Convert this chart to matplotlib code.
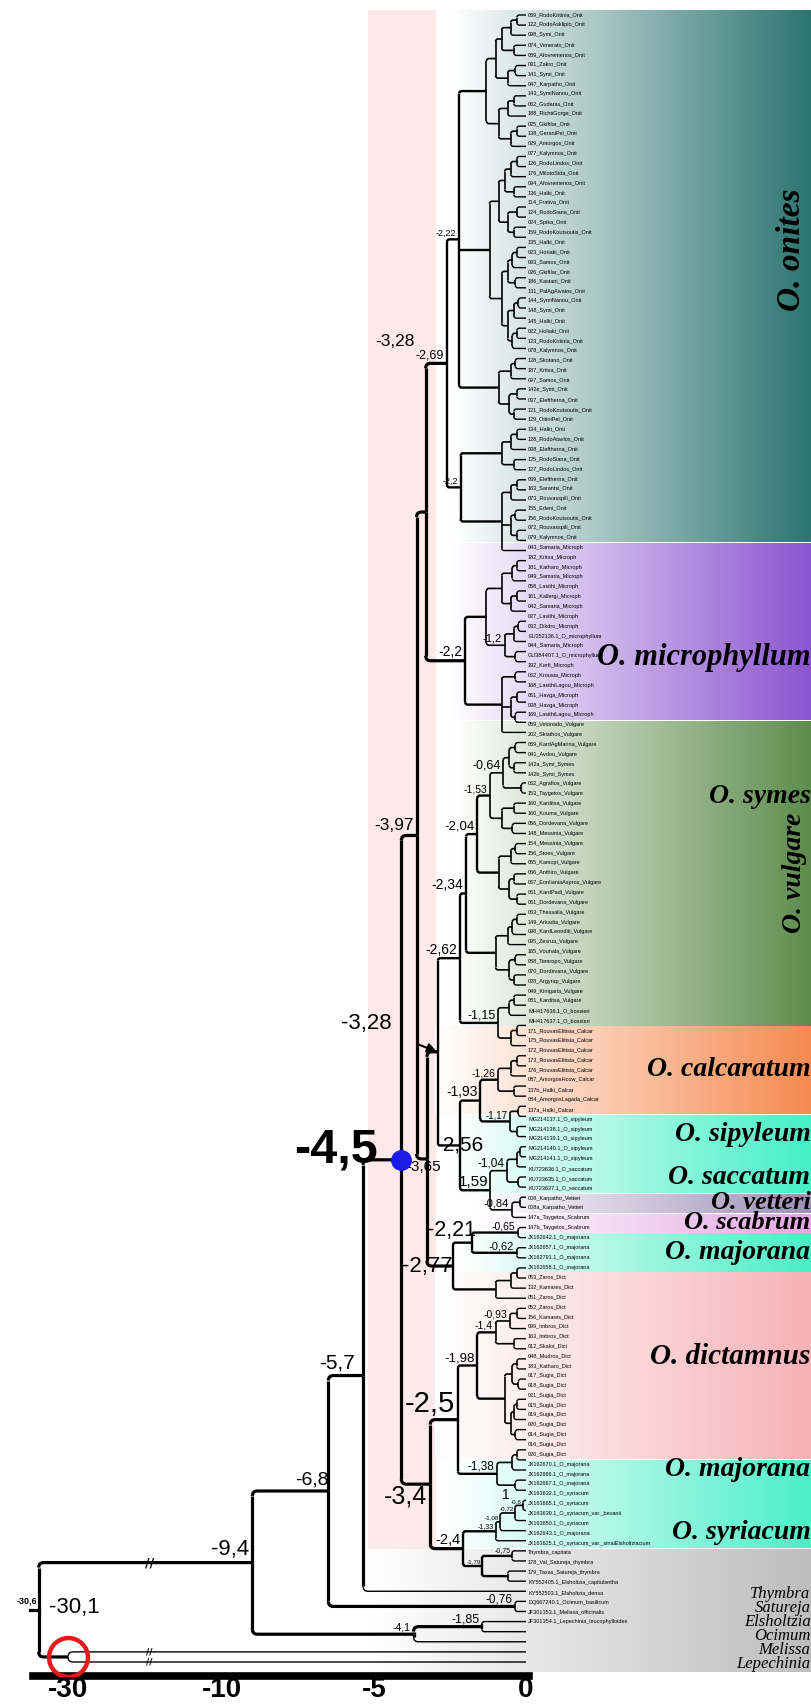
import matplotlib
matplotlib.use("Agg")
import matplotlib.pyplot as plt
import numpy as np
from matplotlib.path import Path
from matplotlib.patches import PathPatch

# ---------------- leaves (top to bottom) ----------------
onites = [
    "069_RodoKritinia_Onit", "122_RodoAsklipio_Onit", "098_Symi_Onit", "074_Venerato_Onit",
    "089_Afovremenos_Onit", "031_Zakro_Onit", "141_Symi_Onit", "047_Karpatho_Onit",
    "143_SymiNanou_Onit", "062_Gudaras_Onit", "188_RichtiGorge_Onit", "025_Gkiftlar_Onit",
    "138_GeraniPel_Onit", "029_Amorgos_Onit", "077_Kalymnos_Onit", "126_RodoLindos_Onit",
    "176_MilotoSida_Onit", "094_Afovremenos_Onit", "136_Halki_Onit", "114_Frativa_Onit",
    "124_RodoSiana_Onit", "024_Spika_Onit", "159_RodoKoutsoutis_Onit", "135_Halki_Onit",
    "023_Horiaki_Onit", "093_Samos_Onit", "026_Gkiftlar_Onit", "186_Kastani_Onit",
    "131_PalAgAivaios_Onit", "144_SymiNanou_Onit", "148_Symi_Onit", "145_Halki_Onit",
    "022_Holiaki_Onit", "123_RodoKritinia_Onit", "078_Kalymnos_Onit", "128_Skotano_Onit",
    "187_Kritsa_Onit", "097_Samos_Onit", "142e_Symi_Onit", "037_Eleftherna_Onit",
    "121_RodoKoutsoutis_Onit", "129_OitiniPel_Onit", "134_Halki_Onit", "128_RodoAtavlos_Onit",
    "038_Eleftherna_Onit", "125_RodoSiana_Onit", "127_RodoLindos_Onit", "039_Eleftherna_Onit",
    "163_Sarantsi_Onit", "073_Rouvasspili_Onit", "155_Edeni_Onit", "156_RodoKoutsoutis_Onit",
    "072_Rouvasspili_Onit", "079_Kalymnos_Onit",
]
microphyllum = [
    "043_Samaria_Microph", "182_Kritsa_Microph", "181_Katharo_Microph", "049_Samaria_Microph",
    "058_Lasithi_Microph", "161_Kallergi_Microph", "042_Samaria_Microph", "027_Lasithi_Microph",
    "032_Dikdro_Microph", "EU252136.1_O_microphyllum", "044_Samaria_Microph",
    "GU384407.1_O_microphyllum", "192_Kerfi_Microph", "062_Krousia_Microph",
    "168_LasithiLagou_Microph", "061_Havga_Microph", "038_Havga_Microph", "169_LasithiLagou_Microph",
]
vulgare = [
    "059_Velonado_Vulgare", "202_Skiathos_Vulgare", "069_KardAgMarina_Vulgare", "041_Avdou_Vulgare",
    "142a_Symi_Symes", "142b_Symi_Symes", "062_Agrafios_Vulgare", "153_Taygetos_Vulgare",
    "160_Karditsa_Vulgare", "160_Kouma_Vulgare", "066_Dordevana_Vulgare", "148_Messinia_Vulgare",
    "154_Messinia_Vulgare", "156_Stoes_Vulgare", "065_Kamopi_Vulgare", "066_Anthiro_Vulgare",
    "067_EonlianiaAspros_Vulgare", "061_KardPadi_Vulgare", "061_Dordevana_Vulgare",
    "063_Thessalia_Vulgare", "149_Arkadia_Vulgare", "098_KardLeonditi_Vulgare", "095_Zesrua_Vulgare",
    "165_Vounala_Vulgare", "068_Temropo_Vulgare", "070_Dordevana_Vulgare", "028_Argyrap_Vulgare",
    "049_Kinigaria_Vulgare", "081_Karditsa_Vulgare", "MH417636.1_O_bossieri", "MH417637.1_O_bossieri",
]
calcaratum = [
    "171_RouvasElitisia_Calcar", "175_RouvasElitisia_Calcar", "172_RouvasElitisia_Calcar",
    "173_RouvasElitisia_Calcar", "176_RouvasElitisia_Calcar", "087_AmorgosHcow_Calcar",
    "137b_Halki_Calcar", "084_AmorgosLagada_Calcar", "137a_Halki_Calcar",
]
sipyleum = [
    "MG214137.1_O_sipyleum", "MG214138.1_O_sipyleum", "MG214139.1_O_sipyleum",
    "MG214140.1_O_sipyleum", "MG214141.1_O_sipyleum", "KU723636.1_O_saccatum",
    "KU723635.1_O_saccatum", "KU723637.1_O_saccatum",
]
vetteri = ["008_Karpatho_Vetteri", "008a_Karpatho_Vetteri"]
scabrum = ["147a_Taygetos_Scabrum", "147b_Taygetos_Scabrum"]
majorana = ["JX162642.1_O_majorana", "JX162657.1_O_majorana", "JX162791.1_O_majorana",
            "JX162658.1_O_majorana"]
dictamnus = [
    "053_Zaros_Dict", "132_Kamares_Dict", "051_Zaros_Dict", "052_Zaros_Dict", "156_Kamares_Dict",
    "099_Imbros_Dict", "163_Imbros_Dict", "012_Skalot_Dict", "048_Mudros_Dict", "183_Katharo_Dict",
    "017_Sugia_Dict", "018_Sugia_Dict", "021_Sugia_Dict", "015_Sugia_Dict", "019_Sugia_Dict",
    "020_Sugia_Dict", "014_Sugia_Dict", "016_Sugia_Dict", "020_Sugia_Dict",
]
majsyr = [
    "JX162670.1_O_majorana", "JX162666.1_O_majorana", "JX162667.1_O_majorana",
    "JX163632.1_O_syriacum", "JX163665.1_O_syriacum", "JX163639.1_O_syriacum_var._bevanii",
    "JX163650.1_O_syriacum", "JX162643.1_O_majorana", "JX163625.1_O_syriacum_var._sinaiElsholtziacium",
]
outgroups = [
    "Thymbra_capitata", "178_Val_Satureja_thymbra", "179_Taxas_Satureja_thymbra",
    "KY552405.1_Elsholtzia_capitulantha", "KY552503.1_Elsholtzia_densa",
    "DQ667240.1_Ocimum_basilicum", "JF301353.1_Melissa_officinalis",
    "JF301354.1_Lepechinia_leucophylloides",
]

# ---------------- topology: leaf index, ")depth:name" for internal nodes ----------------
oni_a = "((((0,1)-0.3,2)-0.5,(3,4)-0.4)-0.8,((5,6)-0.35,7)-0.6)-1.0"
oni_b = "(((8,9)-0.4,10)-0.6,((11,12)-0.3,13)-0.5)-0.9"
oni_c = "((((14,15)-0.3,16)-0.5,(17,18)-0.4)-0.7,((19,20)-0.3,(21,22)-0.4)-0.6)-0.9"
oni_d = "((((23,24)-0.3,25)-0.45,(26,27)-0.35)-0.6,(((28,29)-0.25,30)-0.4,((31,32)-0.3,33)-0.45)-0.6)-0.8"
oni_e = "(((34,35)-0.35,36)-0.5,((37,38)-0.3,(39,40)-0.4)-0.55)-0.9"
oni_f = "((((41,42)-0.3,43)-0.5,(44,45)-0.4)-0.8,(((46,47)-0.3,48)-0.5,((49,50)-0.35,(51,52)-0.3)-0.5,53)-0.8)-2.15:n22a"
onites_tree = f"((({oni_a},{oni_b})-1.3,({oni_c},{oni_d})-1.2,{oni_e})-2.2:n222,{oni_f})-2.6:n269"

mic_a = "((((0,1)-0.3,2)-0.45,((3,4)-0.3,5)-0.5)-0.8,(((6,7)-0.25,8)-0.4,(9,10)-0.35)-0.7:n12)-1.3"
mic_b = "((11,12)-0.35,((13,14)-0.3,(15,16)-0.35)-0.5,17)-0.8"
micro_tree = f"({mic_a},{mic_b})-2.0:n22b"

vul_064 = "(((0,1)-0.35,(2,3)-0.4)-0.55,(4,5)-0.15)-0.75:n064"
vul_x1 = "((6,7)-0.4,(8,9)-0.45)-0.8"
vul_x2 = "(((10,11)-0.35,12)-0.5,((13,14)-0.4,(15,16)-0.3)-0.55)-0.9"
vul_x3 = "((((17,18)-0.3,19)-0.45,20)-0.6,((21,22)-0.35,(23,24)-0.4)-0.55)-1.0"
vul_115 = "(((25,26)-0.4,27)-0.55,((28,29)-0.3,30)-0.5)-0.92:n115"
vulgare_tree = f"(((({vul_064},{vul_x1})-1.18:n153,{vul_x2})-1.6:n204,{vul_x3})-1.97:n234,{vul_115})-2.17:n262"

calc_tree = "((((0,1)-0.3,2)-0.5,(3,4)-0.4)-0.92:n126,((5,6)-0.25,(7,8)-0.3)-0.53:n117)-1.5:n193"
sip_tree = "((((0,1)-0.2,2)-0.3,(3,4)-0.25)-0.62:n104,((5,6)-0.2,7)-0.46:n084)-1.18:n159"
vet_tree = "(0,1)-0.26:n065"
sca_tree = "(0,1)-0.3:n062"
maj_tree = "(((0,1)-0.3,2)-0.5,3)-1.0"
dic_a = ("((((0,1)-0.3,2)-0.53:n093,(3,4)-0.4)-1.0:n14,"
         "(((5,6)-0.3,(7,8)-0.25)-0.45,(((9,10)-0.3,11)-0.4,(12,13)-0.35)-0.5)-0.7)-1.6:n198")
dic_b = "(((14,15)-0.3,16)-0.45,(17,18)-0.35:n1)-0.95:n138"
dict_tree = f"({dic_a},{dic_b})-2.24:n25"
majsyr_tree = ("(((((0,1)-0.1:n06,2)-0.36:n072,3)-0.85:n108,4)-1.0:n133,"
               "((5,6)-0.46:n075,(7,8)-0.6)-1.45:n179)-2.07:n24")

clades = {"ONI": (onites, onites_tree), "MIC": (microphyllum, micro_tree),
          "VUL": (vulgare, vulgare_tree), "CAL": (calcaratum, calc_tree),
          "SIP": (sipyleum, sip_tree), "VET": (vetteri, vet_tree), "SCA": (scabrum, sca_tree),
          "MAJ": (majorana, maj_tree), "DIC": (dictamnus, dict_tree), "MSY": (majsyr, majsyr_tree)}

n277 = "((VET,SCA)-1.78:n221,MAJ)-2.4:n277"
n365 = f"((VUL,(CAL,SIP)-2.17:n256)-2.9:n328b,{n277})-3.26:n365"
n397 = f"((ONI,MIC)-3.3:n328a,{n365})-3.6:n397"
n45 = f"({n397},(DIC,MSY)-3.15:n34)-4.1:n45"
n68 = f"(({n45},G0)-5.36:n57,(G1,G2)-0.36:n076)-6.5:n68"
n94 = f"({n68},((G3,G4)-1.45:n185,G5)-3.7:n41)-9.0:n94"
backbone = f"({n94},(G6,G7)-30.0:n301)-34.5:n306"

# node annotations: text, fontsize, weight, ha, va, dx, dy (points), anchor ("node"/"top")
node_labels = {
    "n306": ("-30,6", 6.5, "bold", "right", "bottom", -1, 3, "node"),
    "n301": ("-30,1", 16, "normal", "left", "bottom", -14, 28, "node"),
    "n94": ("-9,4", 16, "normal", "right", "bottom", -2, 2, "node"),
    "n68": ("-6,8", 14, "normal", "right", "bottom", 0, 2, "node"),
    "n57": ("-5,7", 15, "normal", "right", "bottom", -6, 2, "node"),
    "n45": ("-4,5", 35, "bold", "right", "bottom", -17, -9, "node"),
    "n397": ("-3,97", 12.5, "normal", "right", "bottom", -2, 2, "node"),
    "n328a": ("-3,28", 12.5, "normal", "right", "bottom", -8, 10, "top"),
    "n365": ("-3,65", 11, "normal", "center", "top", -2, -1, "node"),
    "n269": ("-2,69", 9, "normal", "right", "bottom", -2, 1, "node"),
    "n222": ("-2,22", 6.5, "normal", "right", "bottom", -2, 1, "node"),
    "n22a": ("-2,2", 6.5, "normal", "right", "bottom", -2, 1, "node"),
    "n22b": ("-2,2", 10, "normal", "right", "bottom", -2, 1, "node"),
    "n12": ("-1,2", 8, "normal", "right", "bottom", -2, 1, "node"),
    "n064": ("-0,64", 9, "normal", "right", "bottom", -2, 1, "node"),
    "n153": ("-1,53", 7.5, "normal", "right", "bottom", -2, 1, "node"),
    "n204": ("-2,04", 9.5, "normal", "right", "bottom", -2, 1, "node"),
    "n234": ("-2,34", 10, "normal", "right", "bottom", -2, 1, "node"),
    "n262": ("-2,62", 10, "normal", "right", "bottom", -2, 1, "node"),
    "n115": ("-1,15", 9, "normal", "right", "bottom", -2, 1, "node"),
    "n193": ("-1,93", 10, "normal", "right", "bottom", -2, 1, "node"),
    "n126": ("-1,26", 7.5, "normal", "right", "bottom", -2, 1, "node"),
    "n117": ("-1,17", 7, "normal", "right", "bottom", -2, 1, "node"),
    "n256": ("-2,56", 15, "normal", "center", "center", 0, 0, "node"),
    "n104": ("-1,04", 8.5, "normal", "right", "bottom", -2, 1, "node"),
    "n159": ("1,59", 11, "normal", "right", "bottom", -1, 1, "node"),
    "n084": ("-0,84", 8, "normal", "right", "bottom", -2, 1, "node"),
    "n221": ("-2,21", 15.5, "normal", "right", "bottom", 3, 1, "node"),
    "n065": ("-0,65", 7.5, "normal", "right", "bottom", -2, 1, "node"),
    "n062": ("-0,62", 8, "normal", "right", "bottom", -2, 1, "node"),
    "n277": ("-2,77", 16, "normal", "right", "center", 0, 0, "node"),
    "n093": ("-0,93", 7.5, "normal", "right", "bottom", -2, 1, "node"),
    "n14": ("-1,4", 7.5, "normal", "right", "bottom", -2, 1, "node"),
    "n198": ("-1,98", 9.5, "normal", "right", "bottom", -2, 1, "node"),
    "n25": ("-2,5", 21, "normal", "right", "bottom", -2, 1, "node"),
    "n138": ("-1,38", 8.5, "normal", "right", "bottom", -2, 1, "node"),
    "n1": ("1", 10, "normal", "right", "top", -4, -2, "node"),
    "n34": ("-3,4", 18, "normal", "right", "top", -2, 0, "node"),
    "n24": ("-2,4", 10.5, "normal", "right", "bottom", -2, 1, "node"),
    "n179": ("-1,79", 4.5, "normal", "right", "bottom", -1, 1, "node"),
    "n133": ("-1,33", 5, "normal", "right", "bottom", -1, 1, "node"),
    "n108": ("-1,08", 4.5, "normal", "right", "bottom", -1, 1, "node"),
    "n072": ("-0,72", 4.5, "normal", "right", "bottom", -1, 1, "node"),
    "n06": ("-0,6", 4.5, "normal", "right", "bottom", -1, 1, "node"),
    "n075": ("-0,75", 5, "normal", "right", "bottom", -1, 1, "node"),
    "n076": ("-0,76", 8.5, "normal", "right", "bottom", -2, 1, "node"),
    "n185": ("-1,85", 9, "normal", "right", "bottom", -2, 1, "node"),
    "n41": ("-4,1", 7.5, "normal", "right", "bottom", -2, 1, "node"),
}

# clade titles: text, clade, position inside the band (0 top .. 1 bottom), rotation, size
clade_titles = [
    ("O. onites", "ONI", 0.45, 90, 24), ("O. microphyllum", "MIC", 0.65, 0, 22),
    ("O. symes", "VUL", 0.25, 0, 20), ("O. vulgare", "VUL", 0.5, 90, 20),
    ("O. calcaratum", "CAL", 0.5, 0, 20), ("O. sipyleum", "SIP", 0.26, 0, 20),
    ("O. saccatum", "SIP", 0.8, 0, 20), ("O. vetteri", "VET", 0.5, 0, 19),
    ("O. scabrum", "SCA", 0.5, 0, 19), ("O. majorana", "MAJ", 0.5, 0, 20),
    ("O. dictamnus", "DIC", 0.45, 0, 21), ("O. majorana", "MSY", 0.12, 0, 20),
    ("O. syriacum", "MSY", 0.82, 0, 20),
]
outgroup_titles = ["Thymbra", "Satureja", "Elsholtzia", "Ocimum", "Melissa", "Lepechinia"]

band_colors = {"ONI": "#2b7470", "MIC": "#8b55d0", "VUL": "#5e8c4c", "CAL": "#f58a50",
               "SIP": "#45f0c6", "VET": "#9c90b8", "SCA": "#e4a6e4", "MAJ": "#48eec4",
               "DIC": "#f6b2b6", "MSY": "#4cefc8", "OUT": "#bdbdbd"}
band_start = {"ONI": -2.4, "MIC": -2.55, "VUL": -2.4, "CAL": -3.0, "SIP": -2.4, "VET": -1.6,
              "SCA": -1.6, "MAJ": -2.2, "DIC": -3.0, "MSY": -2.6, "OUT": -5.2}

TIP = 0.0
PX = 30.4  # pixels per axis unit in the linear part
BREAK, SQUEEZE = -11.0, 0.214


def fwd(t):
    t = np.asarray(t, float)
    return np.where(t < BREAK, BREAK + (t - BREAK) * SQUEEZE, t)


def inv(u):
    u = np.asarray(u, float)
    return np.where(u < BREAK, BREAK + (u - BREAK) / SQUEEZE, u)


def parse(s, leaf_fn):
    pos = 0

    def token():
        nonlocal pos
        j = pos
        while pos < len(s) and s[pos] not in ",()":
            pos += 1
        return s[j:pos]

    def node():
        nonlocal pos
        if s[pos] == "(":
            pos += 1
            kids = [node()]
            while s[pos] == ",":
                pos += 1
                kids.append(node())
            pos += 1
            depth, _, name = token().partition(":")
            return {"kids": kids, "x": float(depth), "name": name}
        return leaf_fn(token())
    return node()


leaf_order = []


def make_leaf(label, key):
    n = {"kids": [], "x": TIP, "label": label, "clade": key, "name": ""}
    leaf_order.append(n)
    return n


def backbone_leaf(tok):
    if tok.startswith("G"):
        return make_leaf(outgroups[int(tok[1:])], "OUT")
    names, sub = clades[tok]
    return parse(sub, lambda t: make_leaf(names[int(t)], tok))


tree = parse(backbone, backbone_leaf)

# the drawn tree is slightly taller than the column of tip names beside it
tree_rows = np.linspace(15, 1662, len(leaf_order))
name_rows = np.linspace(15, 1622, len(leaf_order))
for n, y, ly in zip(leaf_order, tree_rows, name_rows):
    n["y"], n["ly"] = y, ly
STEP = name_rows[1] - name_rows[0]
main = [n for n in leaf_order if n["clade"] != "OUT"]


def set_y(n):
    if n["kids"]:
        for k in n["kids"]:
            set_y(k)
        n["y"] = 0.5 * (n["kids"][0]["y"] + n["kids"][-1]["y"])


set_y(tree)


def find(n, name):
    if n["name"] == name:
        return n
    for k in n["kids"]:
        r = find(k, name)
        if r:
            return r
    return None


fig = plt.figure(figsize=(8.12, 17.05), dpi=100)
AX_BOTTOM = 1676
ax = fig.add_axes([0, (1705 - AX_BOTTOM) / 1705, 1, AX_BOTTOM / 1705])
ax.set_xscale("function", functions=(fwd, inv))
x_left = float(inv(-526 / PX))
x_right = (812 - 526) / PX
ax.set_xlim(x_left, x_right)
ax.set_ylim(AX_BOTTOM, 0)

# pink time band
ax.axvspan(-5.2, -2.95, ymin=0.02, ymax=1 - 10 / AX_BOTTOM, color="#fde8eb", zorder=0, lw=0)

# clade colour bands (white -> colour gradient), aligned with the tip names
grad = np.linspace(0, 1, 256)[None, :, None]
bands = {}
for key, col in band_colors.items():
    ys = [n["ly"] for n in leaf_order if n["clade"] == key]
    y0, y1 = min(ys) - STEP / 2, max(ys) + STEP / 2
    if key == "OUT":
        y0, y1 = main[-1]["ly"] + STEP / 2, AX_BOTTOM - 4
    bands[key] = (y0, y1)
    rgb = np.array(matplotlib.colors.to_rgb(col))
    img = (1 - grad) * np.ones(3) + grad * rgb
    ax.imshow(img, extent=[band_start[key], x_right, y1, y0], aspect="auto", zorder=0.5,
              interpolation="bilinear")


def lw_for(n):
    if n["x"] < -3.0:
        return 2.3
    if n["x"] < -1.4:
        return 1.7
    return 1.2


def corner_dx(x, r_px):
    return float(inv(fwd(x) + r_px / PX)) - x


stack = [tree]
while stack:
    n = stack.pop()
    if not n["kids"]:
        continue
    lw = lw_for(n)
    r = 5 if lw > 2 else 2.5
    last = len(n["kids"]) - 1
    for i, k in enumerate(n["kids"]):
        stack.append(k)
        klw = 1.0 if not k["kids"] else lw
        if i in (0, last) and abs(k["y"] - n["y"]) > r:
            sgn = np.sign(k["y"] - n["y"])
            dx = corner_dx(n["x"], r)
            ax.add_patch(PathPatch(Path([(n["x"], n["y"]), (n["x"], k["y"] - sgn * r)]),
                                   fill=False, lw=lw, color="black", capstyle="butt", zorder=3))
            verts = [(n["x"], k["y"] - sgn * r), (n["x"], k["y"]), (n["x"] + dx, k["y"]),
                     (k["x"], k["y"])]
            codes = [Path.MOVETO, Path.CURVE3, Path.CURVE3, Path.LINETO]
            ax.add_patch(PathPatch(Path(verts, codes), fill=False, lw=klw, color="black",
                                   capstyle="butt", zorder=3))
        else:
            ax.plot([n["x"], k["x"]], [k["y"], k["y"]], color="black", lw=klw, zorder=3,
                    solid_capstyle="butt")
    if n["name"] in node_labels:
        txt, size, weight, ha, va, dx, dy, anchor = node_labels[n["name"]]
        ay = n["kids"][0]["y"] if anchor == "top" else n["y"]
        ax.annotate(txt, (n["x"], ay), xytext=(dx, dy), textcoords="offset points",
                    ha=ha, va=va, fontsize=size, fontweight=weight,
                    family="Liberation Sans", zorder=5)

# stub on the root
root = tree
ax.plot([inv(fwd(root["x"]) - 0.3), root["x"]], [root["y"], root["y"]], color="black", lw=2.3,
        zorder=3)

# tip names
for n in leaf_order:
    ax.annotate(n["label"], (n["x"], n["ly"]), xytext=(1.5, 0), textcoords="offset points",
                ha="left", va="center", fontsize=4.0, family="Liberation Sans", zorder=5)

# break marks on the long branches
nd = find(tree, "n94")
ax.text(-17.5, nd["y"], "//", ha="center", va="center", fontsize=9, fontweight="bold", zorder=6)
for y in [n["y"] for n in leaf_order[-2:]]:
    ax.text(-17.5, y, "//", ha="center", va="center", fontsize=6.5, fontweight="bold", zorder=6)

# "-3,28" arrow
n328b = find(tree, "n328b")
ax.annotate("-3,28", xy=(n328b["x"] - 0.03, n328b["y"]), xytext=(-5.25, n328b["y"] - 28),
            ha="center", va="center", fontsize=16, family="Liberation Sans", zorder=6,
            arrowprops=dict(arrowstyle="-|>", color="black", lw=1.5, mutation_scale=14,
                            shrinkA=18, shrinkB=0))

# blue and red markers
b = find(tree, "n45")
ax.plot(b["x"], b["y"], "o", ms=14, color="#1c1ce6", zorder=6)
rn = find(tree, "n301")
ax.plot(rn["x"], rn["y"], "o", ms=28, mfc="none", mec="#e31a1c", mew=3.2, zorder=6)

# clade titles
for txt, key, frac, rot, size in clade_titles:
    y0, y1 = bands[key]
    ax.text(x_right - (0.15 if rot else 0.05), y0 + frac * (y1 - y0), txt, rotation=rot,
            ha="right", va="center", fontsize=size, fontweight="bold", fontstyle="italic",
            family="Liberation Serif", zorder=6)
for i, txt in enumerate(outgroup_titles):
    ax.text(x_right - 0.05, 1594 + i * 14, txt, ha="right", va="center", fontsize=12,
            fontstyle="italic", family="Liberation Serif", zorder=6)

# axis
for s in ("top", "left", "right"):
    ax.spines[s].set_visible(False)
ax.spines["bottom"].set_linewidth(5.5)
ax.spines["bottom"].set_bounds(-35.4, 0.1)
ax.set_yticks([])
ax.set_xticks([-30, -10, -5, 0])
ax.set_xticklabels(["-30", "-10", "-5", "0"])
ax.tick_params(axis="x", length=0, pad=1, labelsize=20)
for lbl in ax.get_xticklabels():
    lbl.set_fontweight("bold")
    lbl.set_family("Liberation Sans")

fig.savefig("out.png", dpi=100)
